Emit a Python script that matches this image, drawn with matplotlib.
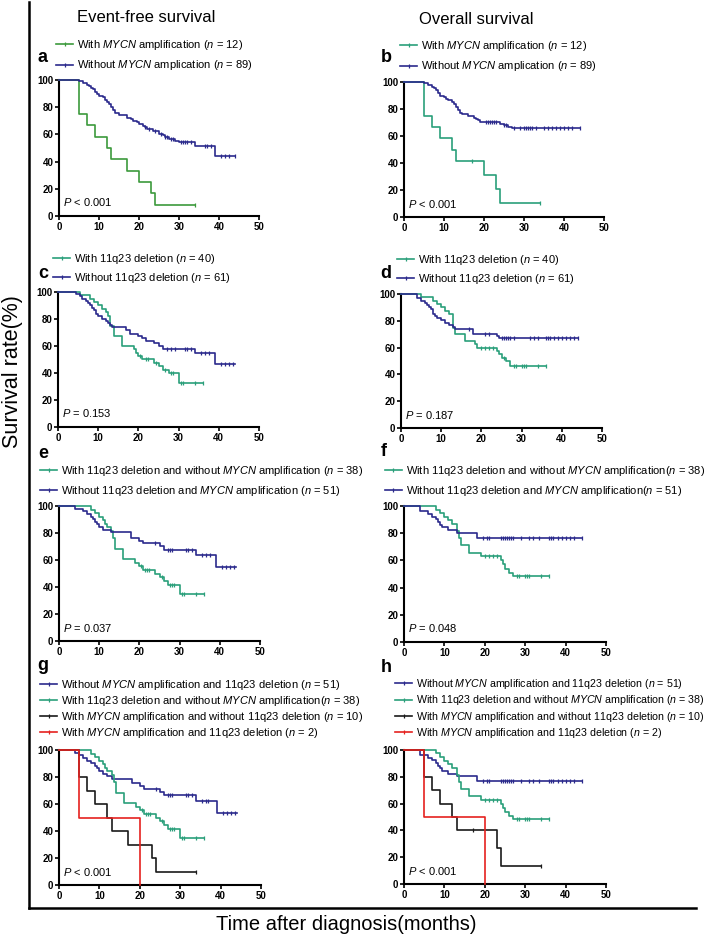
import numpy as np
import matplotlib
matplotlib.use("Agg")
import matplotlib.pyplot as plt
from matplotlib.lines import Line2D

plt.rcParams["font.family"] = ["Liberation Sans", "DejaVu Sans"]
plt.rcParams["mathtext.fontset"] = "custom"
plt.rcParams["mathtext.it"] = "Liberation Sans:italic"
plt.rcParams["mathtext.rm"] = "Liberation Sans"

# --- dane (czas zdarzenia -> odsetek przezycia po spadku) ---
# a: EFS wg MYCN
a_amp_t = [5, 7, 9, 12, 13, 17, 20, 23, 24]
a_amp_s = [75, 66.7, 58.3, 50, 41.7, 33.3, 25, 16.7, 8.3]
a_amp_end = 34
a_amp_cens = [34]
a_non_t = [5, 6, 7, 7.5, 8, 8.5, 9, 9.5, 10, 11, 11.5, 12, 12.5, 13, 13.5, 14, 15, 17,
           18, 18.5, 19.5, 20, 21, 21.5, 22, 23.5, 25, 26, 26.5, 27.5, 29, 30, 34, 39]
a_non_s = [98.9, 97.8, 96.6, 95.5, 94.3, 93.2, 91, 89.8, 88.6, 87.4, 85, 83.9, 82.7, 80.4,
           78.1, 75.8, 74.6, 72.3, 71.2, 70, 68.8, 67.6, 66.4, 65.2, 64, 62.8, 60.4, 59.2,
           57.9, 56.7, 55.4, 54.1, 51.5, 44]
a_non_end = 44
a_non_cens = [21.5, 22.5, 24, 25.5, 26.5, 27, 28, 28.5, 30.5, 31, 31.5, 32, 33, 36.5, 37,
              38, 40.5, 41.5, 42.5, 44]

# b: OS wg MYCN
b_amp_t = [5, 7, 9, 12, 13, 20, 23, 24]
b_amp_s = [75, 66.7, 58.3, 50, 41.7, 31.3, 20.8, 10.4]
b_amp_end = 34
b_amp_cens = [17, 34]
b_non_t = [5, 6, 7, 7.5, 8, 8.5, 9, 10, 10.5, 11, 12, 12.5, 13, 13.5, 14, 14.5, 16, 17.5,
           18, 18.5, 19, 24, 25, 26, 27]
b_non_s = [98.9, 97.8, 96.6, 95.5, 94.3, 92, 89.8, 88.6, 87.5, 86.3, 85.2, 84, 81.7, 79.5,
           77.2, 76, 74.9, 73.7, 72.6, 71.5, 70.3, 69.1, 68, 66.8, 65.6]
b_non_end = 44
b_non_cens = [20.5, 21, 21.5, 22, 22.5, 23, 25, 25.5, 27.5, 29, 30, 30.5, 31, 31.5, 32, 33,
              35, 36, 37, 38, 39, 40, 41, 42, 44]

# c: EFS wg 11q23
c_del_t = [5.5, 8, 9, 10, 11, 12, 12.5, 13, 14, 16, 19, 19.5, 20, 21, 24, 25, 26, 27.5, 30]
c_del_s = [97.5, 95, 92.5, 90, 87.5, 85, 82.5, 75, 67.5, 60, 57.5, 55, 52.5, 50, 47.5, 45,
           42.5, 40, 32.5]
c_del_end = 36
c_del_cens = [20.5, 22, 22.5, 24.5, 26.5, 28, 28.5, 30.5, 31, 34, 36]
c_non_t = [4.5, 5.5, 6, 7, 7.5, 8, 8.5, 9, 9.5, 10, 11, 12, 12.5, 13, 13.5, 17, 18, 20, 21,
           22, 24, 25, 26, 34, 39]
c_non_s = [98.4, 96.7, 95.1, 93.4, 91.8, 90.2, 88.5, 86.9, 83.6, 82, 80.3, 78.7, 77, 75.4,
           73.8, 72.1, 68.8, 67.2, 65.6, 63.9, 62.3, 60.3, 58, 54.5, 47]
c_non_end = 44
c_non_cens = [27, 28, 29, 31.5, 32, 33, 35.5, 36.5, 37.5, 40.5, 41.5, 42.5, 43.5]

# d: OS wg 11q23
d_del_t = [5, 8, 9, 10, 11, 12, 13, 13.5, 16, 18.5, 19, 24, 24.5, 25, 26, 27]
d_del_s = [97.5, 95, 92.5, 90, 87.5, 85, 75, 70, 65, 62.5, 60, 57.5, 55, 52.5, 50, 46.5]
d_del_end = 36
d_del_cens = [20, 21, 22, 23, 25.5, 28, 28.5, 30, 30.5, 31, 34, 36]
d_non_t = [4, 5, 6, 6.5, 7, 7.5, 8, 8.5, 9, 10, 11, 12, 13, 13.5, 18, 24, 24.5]
d_non_s = [96.7, 95.1, 93.4, 91.8, 90.2, 88.5, 85.2, 83.6, 81.9, 80.3, 78.7, 77, 75.4, 73.8,
           70.5, 68.8, 67.2]
d_non_end = 44
d_non_cens = [17, 21, 22, 25, 25.5, 26, 26.5, 27, 28, 32, 33, 34, 36, 36.5, 37, 38, 39, 40,
              41, 42, 43, 44]

# e: EFS 11q23 bez MYCN vs bez obu
e_del_t = [8, 9, 10, 11, 11.5, 12, 13, 13.5, 14, 16, 19, 20, 21, 24, 25, 26, 27, 30]
e_del_s = [97.4, 94.7, 92.1, 89.5, 86.8, 84.2, 81.6, 76.3, 68.4, 60.5, 57.9, 55.3, 52.6, 50,
           47.4, 44.7, 41.5, 34.5]
e_del_end = 36
e_del_cens = [20.5, 21.5, 22, 22.5, 25.5, 27.5, 28, 28.5, 30.5, 31, 34, 36]
e_non_t = [4, 6, 7, 8, 8.5, 9, 9.5, 10, 11, 13, 18, 20, 21, 25, 26, 34, 39]
e_non_s = [98, 96.1, 94.1, 92.2, 90.2, 88.2, 86.3, 84.3, 82.4, 80.4, 76.3, 74.3, 72.3, 70.2,
           67.6, 63.6, 54.6]
e_non_end = 44
e_non_cens = [24, 27, 27.5, 28, 31.5, 32, 33, 35.5, 36.5, 37.5, 40.5, 41.5, 42.5, 43.5]

# f: OS 11q23 bez MYCN vs bez obu
f_del_t = [8, 9, 10, 11, 12, 13, 13.5, 14, 16, 19, 24, 24.5, 25, 26, 27]
f_del_s = [97.4, 94.7, 92.1, 89.5, 86.8, 81.5, 76.3, 71, 65.5, 63, 60, 57, 54, 51, 48.7]
f_del_end = 36
f_del_cens = [20, 21, 22, 23, 28, 28.5, 30, 30.5, 31, 34, 36]
f_non_t = [4, 6, 7, 8, 8.5, 9, 9.5, 11, 13, 18]
f_non_s = [96.1, 94.1, 92.2, 90.2, 88.2, 86.3, 84.3, 82.4, 80.4, 76.5]
f_non_end = 44
f_non_cens = [19.5, 20.5, 21, 24, 24.5, 25, 25.5, 26, 26.5, 27, 29, 31, 32, 33.5, 36, 36.5,
              37, 38, 39, 40, 41, 42, 44]

# g: EFS cztery grupy
g_non_t = [4, 5, 6, 7, 8, 9, 9.5, 10, 11, 12, 13, 18, 20, 21, 25, 26, 34, 39]
g_non_s = [98, 96.1, 94.1, 92.2, 90.2, 88.2, 86.3, 84.3, 82.4, 80.4, 78.4, 75.5, 73.3, 71,
           69, 66.7, 62.3, 53.5]
g_non_end = 44
g_non_cens = [24, 27, 27.5, 28, 31.5, 32, 33, 35.5, 36.5, 37, 40.5, 41.5, 42.5, 43.5]
g_del_t = e_del_t
g_del_s = e_del_s
g_del_end = 36
g_del_cens = e_del_cens
g_amp_t = [5, 7, 9, 12, 13, 17, 23, 24]
g_amp_s = [80, 70, 60, 50, 40, 30, 20, 10]
g_amp_end = 34
g_amp_cens = [34]
g_both_t = [5, 20]
g_both_s = [50, 0]
g_both_end = 20
g_both_cens = []

# h: OS cztery grupy
h_non_t = f_non_t
h_non_s = f_non_s
h_non_end = 44
h_non_cens = f_non_cens
h_del_t = f_del_t
h_del_s = f_del_s
h_del_end = 36
h_del_cens = f_del_cens
h_amp_t = [5, 7, 9, 12, 13, 23, 24]
h_amp_s = [80, 70, 60, 50, 40, 26.7, 13.3]
h_amp_end = 34
h_amp_cens = [17, 34]
h_both_t = [5, 20]
h_both_s = [50, 0]
h_both_end = 20
h_both_cens = []

p_values = ["P < 0.001", "P < 0.001", "P = 0.153", "P = 0.187",
            "P = 0.037", "P = 0.048", "P < 0.001", "P < 0.001"]

lab_amp = r"With $\it{MYCN}$ amplification ($\it{n}$ = 12)"
lab_noamp = r"Without $\it{MYCN}$ amplication ($\it{n}$ = 89)"
lab_del = r"With 11q23 deletion ($\it{n}$ = 40)"
lab_nodel = r"Without 11q23 deletion ($\it{n}$ = 61)"
lab_e1 = r"With 11q23 deletion and without $\it{MYCN}$ amplification ($\it{n}$ = 38)"
lab_e2 = r"Without 11q23 deletion and $\it{MYCN}$ amplification ($\it{n}$ = 51)"
lab_f1 = r"With 11q23 deletion and without $\it{MYCN}$ amplification($\it{n}$ = 38)"
lab_f2 = r"Without 11q23 deletion and $\it{MYCN}$ amplification($\it{n}$ = 51)"
lab_g1 = r"Without $\it{MYCN}$ amplification and 11q23 deletion ($\it{n}$ = 51)"
lab_g2 = r"With 11q23 deletion and without $\it{MYCN}$ amplification($\it{n}$ = 38)"
lab_h2 = r"With 11q23 deletion and without $\it{MYCN}$ amplification ($\it{n}$ = 38)"
lab_g3 = r"With $\it{MYCN}$ amplification and without 11q23 deletion ($\it{n}$ = 10)"
lab_g4 = r"With $\it{MYCN}$ amplification and 11q23 deletion ($\it{n}$ = 2)"

BLUE = "#2b2a8c"
GREEN = "#3c9a3c"
TEAL = "#2a9f7a"
BLACK = "#1a1a1a"
RED = "#e5211f"

W, H = 708, 941
fig = plt.figure(figsize=(W / 100, H / 100), dpi=100)


def km(ax, t, s, end, cens, color):
    x = [0] + list(t) + [end]
    y = [100] + list(s) + [s[-1]]
    ax.step(x, y, where="post", color=color, lw=1.2, clip_on=False, zorder=3)
    if len(cens):
        idx = np.searchsorted(np.array([0] + list(t)), cens, side="right") - 1
        lev = np.array([100] + list(s))[idx]
        ax.plot(cens, lev, ls="none", marker="|", ms=3.5, mew=0.9, color=color,
                clip_on=False, zorder=4)


def panel(box, curves, labels, colors, leg, letter, ptxt, leg_fs=8):
    l, r, t, b = box
    ax = fig.add_axes([l / W, 1 - b / H, (r - l) / W, (b - t) / H])
    for c, col in zip(curves, colors):
        km(ax, *c, col)
    ax.set_xlim(0, 50)
    ax.set_ylim(0, 100)
    ax.set_xticks(range(0, 51, 10))
    ax.set_yticks(range(0, 101, 20))
    for sp in ["top", "right"]:
        ax.spines[sp].set_visible(False)
    for sp in ["left", "bottom"]:
        ax.spines[sp].set_linewidth(1.5)
    ax.tick_params(direction="out", length=3, width=1.2, pad=1, labelsize=7)
    for lab in ax.get_xticklabels() + ax.get_yticklabels():
        lab.set_fontweight("bold")
    ax.text(1, 10, ptxt.replace("P", r"$\it{P}$"), fontsize=8, va="center")
    hx, hy, sp = leg
    handles = [Line2D([0], [0], color=col, lw=1.2, marker="|", ms=3.5, mew=0.9)
               for col in colors]
    px = leg_fs * 100 / 72
    ax.legend(handles, labels, loc="upper left", bbox_to_anchor=(hx / W, 1 - hy / H),
              bbox_transform=fig.transFigure, frameon=False, fontsize=leg_fs, numpoints=1,
              handlelength=17 / px, handletextpad=4 / px, labelspacing=sp, borderpad=0,
              borderaxespad=0)
    fig.text(letter[0] / W, 1 - letter[1] / H, letter[2], fontsize=13, fontweight="bold",
             ha="center", va="center")
    return ax


panel((59, 259, 80, 216),
      [(a_amp_t, a_amp_s, a_amp_end, a_amp_cens), (a_non_t, a_non_s, a_non_end, a_non_cens)],
      [lab_amp, lab_noamp], [GREEN, BLUE], (56, 38, 0.58), (43, 57, "a"), p_values[0])
panel((404, 604, 82, 217),
      [(b_amp_t, b_amp_s, b_amp_end, b_amp_cens), (b_non_t, b_non_s, b_non_end, b_non_cens)],
      [lab_amp, lab_noamp], [TEAL, BLUE], (400, 39, 0.58), (386, 57, "b"), p_values[1])
panel((58, 259, 292, 427),
      [(c_del_t, c_del_s, c_del_end, c_del_cens), (c_non_t, c_non_s, c_non_end, c_non_cens)],
      [lab_del, lab_nodel], [TEAL, BLUE], (53, 252, 0.48), (43, 273, "c"), p_values[2])
panel((401, 602, 294, 428),
      [(d_del_t, d_del_s, d_del_end, d_del_cens), (d_non_t, d_non_s, d_non_end, d_non_cens)],
      [lab_del, lab_nodel], [TEAL, BLUE], (397, 253, 0.48), (386, 273, "d"), p_values[3])
panel((59, 260, 506, 641),
      [(e_del_t, e_del_s, e_del_end, e_del_cens), (e_non_t, e_non_s, e_non_end, e_non_cens)],
      [lab_e1, lab_e2], [TEAL, BLUE], (40, 464, 0.56), (43, 454, "e"), p_values[4])
panel((404, 606, 506, 642),
      [(f_del_t, f_del_s, f_del_end, f_del_cens), (f_non_t, f_non_s, f_non_end, f_non_cens)],
      [lab_f1, lab_f2], [TEAL, BLUE], (385, 464, 0.56), (384, 452, "f"), p_values[5])
panel((59, 261, 750, 885),
      [(g_non_t, g_non_s, g_non_end, g_non_cens), (g_del_t, g_del_s, g_del_end, g_del_cens),
       (g_amp_t, g_amp_s, g_amp_end, g_amp_cens), (g_both_t, g_both_s, g_both_end, g_both_cens)],
      [lab_g1, lab_g2, lab_g3, lab_g4], [BLUE, TEAL, BLACK, RED], (40, 678, 0.18),
      (43, 665, "g"), p_values[6])
panel((404, 606, 750, 884),
      [(h_non_t, h_non_s, h_non_end, h_non_cens), (h_del_t, h_del_s, h_del_end, h_del_cens),
       (h_amp_t, h_amp_s, h_amp_end, h_amp_cens), (h_both_t, h_both_s, h_both_end, h_both_cens)],
      [lab_g1, lab_h2, lab_g3, lab_g4], [BLUE, TEAL, BLACK, RED], (395, 677, 0.22),
      (386, 668, "h"), p_values[7], leg_fs=7.7)

# naglowki kolumn i wspolne opisy osi
fig.text(146 / W, 1 - 18 / H, "Event-free survival", fontsize=12, ha="center", va="center")
fig.text(476 / W, 1 - 19 / H, "Overall survival", fontsize=12, ha="center", va="center")
fig.text(13 / W, 1 - 372 / H, "Survival rate(%)", fontsize=15.5, rotation=90,
         ha="center", va="center")
fig.text(346 / W, 1 - 925 / H, "Time after diagnosis(months)", fontsize=14.5,
         ha="center", va="center")

# ramka w ksztalcie L
fig.add_artist(Line2D([29 / W, 29 / W], [1 - 2 / H, 1 - 908 / H], transform=fig.transFigure,
                      color="black", lw=1.8))
fig.add_artist(Line2D([29 / W, 696 / W], [1 - 908 / H, 1 - 908 / H], transform=fig.transFigure,
                      color="black", lw=1.8))

fig.savefig("out.png", dpi=100)
